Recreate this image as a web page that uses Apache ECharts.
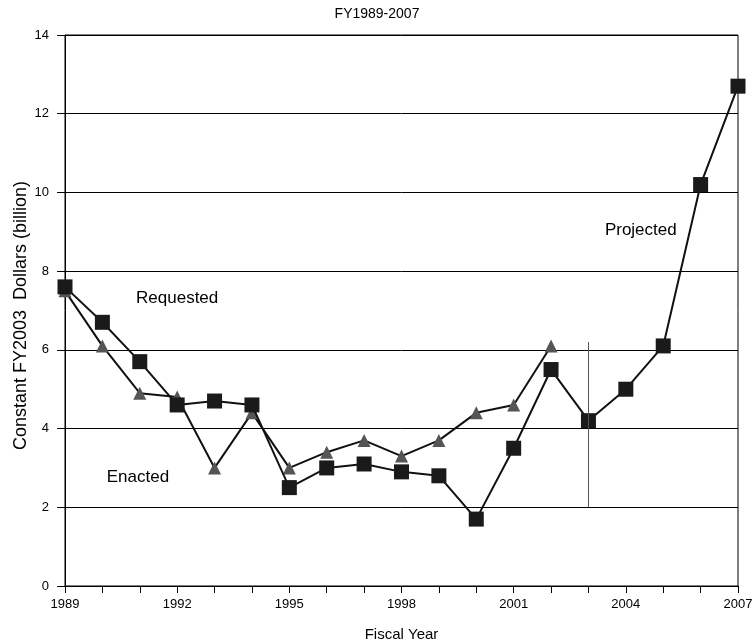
<!DOCTYPE html>
<html>
<head>
<meta charset="utf-8">
<script src="https://cdn.jsdelivr.net/npm/echarts@6/dist/echarts.min.js"></script>
<style>
    html, body { margin: 0; padding: 0; background: #fff; }
    #main { width: 754px; height: 644px; }
</style>
</head>
<body>
<div id="main"></div>
<script>
    var years = [1989,1990,1991,1992,1993,1994,1995,1996,1997,1998,1999,2000,2001,2002,2003,2004,2005,2006,2007]
    var enacted = [7.6,6.7,5.7,4.6,4.7,4.6,2.5,3.0,3.1,2.9,2.8,1.7,3.5,5.5,4.2,5.0,6.1,10.2,12.7]
    var requested = [7.5,6.1,4.9,4.8,3.0,4.4,3.0,3.4,3.7,3.3,3.7,4.4,4.6,6.1]
    var yTicks = [0,2,4,6,8,10,12,14]
    // 注释文字 (data coords)
    var notes = [
        { name:'Requested', coord:[1992.0, 7.3] },
        { name:'Enacted', coord:[1990.95, 2.75] },
        { name:'Projected', coord:[2004.4, 9.05] }
    ]
    var projLine = { year:2003, from:2.0, to:6.2 }

    var font = 'Liberation Sans, Arial, sans-serif'
    var myChart = echarts.init(document.getElementById('main'))

    function pairs(vals){
        return vals.map(function(v,i){ return [years[i], v] })
    }

    var option = {
        animation:false,
        textStyle:{ fontFamily:font },
        title:{
            text:'FY1989-2007',
            left:'center',
            top:2,
            textStyle:{ fontFamily:font, fontSize:14, fontWeight:'normal', color:'#000' }
        },
        grid:{
            left:65,
            right:16,
            top:35,
            bottom:58,
            outerBoundsMode:'none',
            containLabel:false,
            show:true,
            borderColor:'#000',
            borderWidth:1,
            backgroundColor:'transparent'
        },
        xAxis:{
            type:'value',
            min:years[0],
            max:years[years.length-1],
            interval:3,
            name:'Fiscal Year',
            nameLocation:'middle',
            nameGap:41,
            nameTextStyle:{ fontFamily:font, fontSize:15, color:'#000' },
            axisLine:{ show:true, lineStyle:{ color:'#000', width:1 } },
            axisTick:{ show:true, length:7, lineStyle:{ color:'#000' } },
            minorTick:{ show:true, splitNumber:3, length:7, lineStyle:{ color:'#000' } },
            axisLabel:{
                color:'#000',
                fontSize:13,
                margin:12,
                formatter:function(v){ return String(v) }
            },
            splitLine:{ show:false }
        },
        yAxis:{
            type:'value',
            min:yTicks[0],
            max:yTicks[yTicks.length-1],
            interval:2,
            name:'Constant FY2003  Dollars (billion)',
            nameLocation:'middle',
            nameGap:35,
            nameMoveOverlap:false,
            nameTextStyle:{ fontFamily:font, fontSize:18, color:'#000', padding:[0,10,0,0] },
            axisLine:{ show:true, lineStyle:{ color:'#000', width:1 } },
            axisTick:{ show:true, length:8, lineStyle:{ color:'#000' } },
            axisLabel:{ color:'#000', fontSize:13, margin:16 },
            splitLine:{ show:true, lineStyle:{ color:'#000', width:1 } }
        },
        series:[
            {
                name:'Requested',
                type:'line',
                data:pairs(requested),
                symbol:'triangle',
                symbolSize:13,
                z:3,
                lineStyle:{ color:'#111', width:2 },
                itemStyle:{ color:'#555', borderWidth:0 }
            },
            {
                name:'Enacted',
                type:'line',
                data:pairs(enacted),
                symbol:'rect',
                symbolSize:15,
                z:4,
                lineStyle:{ color:'#111', width:2 },
                itemStyle:{ color:'#1a1a1a', borderWidth:0 },
                markLine:{
                    silent:true,
                    symbol:'none',
                    label:{ show:false },
                    lineStyle:{ color:'#555', width:1, type:'solid' },
                    data:[[ { coord:[projLine.year, projLine.from] }, { coord:[projLine.year, projLine.to] } ]]
                },
                markPoint:{
                    silent:true,
                    symbol:'circle',
                    symbolSize:0,
                    label:{
                        show:true,
                        position:'inside',
                        formatter:'{b}',
                        fontFamily:font,
                        fontSize:17,
                        color:'#000'
                    },
                    data:notes
                }
            }
        ]
    }
    myChart.setOption(option)
</script>
</body>
</html>
